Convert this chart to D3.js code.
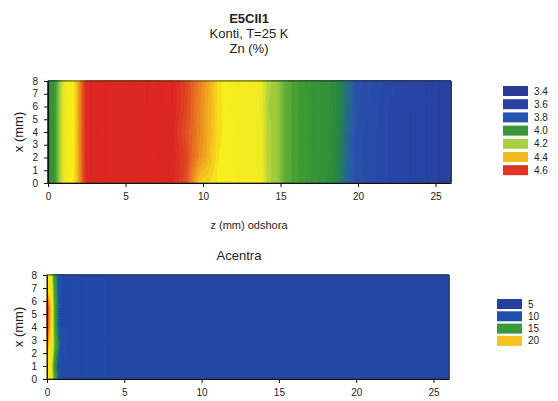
<!DOCTYPE html>
<html>
<head>
<meta charset="utf-8">
<script src="https://cdn.jsdelivr.net/npm/d3@7"></script>
<style>
  body { margin: 0; background: #fff; }
  svg { display: block; font-family: "Liberation Sans", Arial, sans-serif; }
</style>
</head>
<body>
<svg id="chart" width="558" height="401"></svg>
<script>
// --- data ---

// Zn (%) map: knots along z (mm), rows at x (mm)
var zTop = [0, 0.4, 0.8, 1.2, 1.7, 2.1, 2.5, 4, 6, 8, 8.8, 9.3, 9.8, 10.4, 11, 12, 13, 13.8, 14.2, 14.8, 15.3, 17, 18.2, 18.8, 19.4, 20, 22, 24, 26];
var xTop = [0, 2, 4, 6, 8];
var znRow0 = [3.95, 4.02, 4.18, 4.30, 4.35, 4.47, 4.62, 4.68, 4.68, 4.62, 4.56, 4.47, 4.38, 4.37, 4.34, 4.31, 4.30, 4.26, 4.18, 4.15, 4.09, 4.01, 3.96, 3.88, 3.78, 3.70, 3.65, 3.62, 3.57];
var znRow2 = [3.95, 4.02, 4.18, 4.30, 4.35, 4.48, 4.62, 4.68, 4.68, 4.63, 4.57, 4.51, 4.46, 4.41, 4.35, 4.31, 4.30, 4.25, 4.18, 4.15, 4.09, 4.01, 3.97, 3.90, 3.80, 3.70, 3.65, 3.62, 3.57];
var znRow4 = [3.95, 4.02, 4.18, 4.30, 4.35, 4.48, 4.62, 4.68, 4.68, 4.62, 4.55, 4.51, 4.47, 4.42, 4.36, 4.31, 4.30, 4.25, 4.18, 4.15, 4.09, 4.01, 3.97, 3.90, 3.80, 3.70, 3.65, 3.62, 3.57];
var znRow6 = [3.95, 4.02, 4.18, 4.30, 4.35, 4.48, 4.62, 4.68, 4.68, 4.63, 4.57, 4.52, 4.47, 4.42, 4.36, 4.31, 4.30, 4.24, 4.17, 4.15, 4.09, 4.01, 3.97, 3.91, 3.81, 3.71, 3.65, 3.62, 3.57];
var znRow8 = [3.94, 4.01, 4.17, 4.30, 4.35, 4.48, 4.62, 4.68, 4.68, 4.63, 4.57, 4.52, 4.48, 4.43, 4.36, 4.31, 4.30, 4.25, 4.18, 4.15, 4.09, 4.01, 3.97, 3.91, 3.82, 3.72, 3.66, 3.62, 3.57];

// Acentra map
var zBot = [0, 0.15, 0.3, 0.45, 0.6, 0.75, 1.0, 1.5, 5, 10, 15, 20, 26];
var xBot = [0, 1, 2.5, 4, 5.5, 7, 8];
var acRow0 = [17, 16.5, 15.5, 13, 12, 9, 6, 5.2, 4.7, 4.7, 4.7, 4.7, 4.7];
var acRow1 = [17, 16.5, 15, 12.5, 11, 7, 5.6, 5.2, 4.7, 4.7, 4.7, 4.7, 4.7];
var acRow2 = [20, 18, 16.5, 14, 12.5, 11, 7, 5.2, 4.7, 4.7, 4.7, 4.7, 4.7];
var acRow4 = [23, 20, 16.5, 13.5, 12, 9.5, 6, 5.2, 4.7, 4.7, 4.7, 4.7, 4.7];
var acRow5 = [23.5, 20.5, 16.5, 13.5, 12, 9.5, 6, 5.2, 4.7, 4.7, 4.7, 4.7, 4.7];
var acRow7 = [18, 17, 15.5, 13, 11.5, 9, 6, 5.2, 4.7, 4.7, 4.7, 4.7, 4.7];
var acRow8 = [16.5, 16, 15, 12.5, 11, 8.5, 6, 5.2, 4.7, 4.7, 4.7, 4.7, 4.7];

// legends
var topLegend = ["3.4", "3.6", "3.8", "4.0", "4.2", "4.4", "4.6"];
var topLegendColors = ["#2a3b96", "#2842a2", "#2852b0", "#3a9438", "#a8d040", "#f4b820", "#e03424"];
var botLegend = ["5", "10", "15", "20"];
var botLegendColors = ["#263f98", "#1f50b0", "#3a9a3a", "#f6c420"];

var zTicks = [0, 5, 10, 15, 20, 25];
var xTicks = [0, 1, 2, 3, 4, 5, 6, 7, 8];

var svg = d3.select("#chart");

// colour ramps (as scanned)
var znColor = d3.scaleLinear()
  .domain([3.5, 3.65, 3.75, 3.85, 3.93, 4.05, 4.12, 4.18, 4.25, 4.34, 4.40, 4.47, 4.55, 4.62])
  .range(["#293a96", "#2746a6", "#2a56ae", "#227478", "#2a8a3a", "#3f9c35", "#7bbd3a", "#b2d43c", "#f0ea26", "#f8ee1c", "#f4c21e", "#ec8a22", "#e04a24", "#dc2622"])
  .clamp(true);

var acColor = d3.scaleLinear()
  .domain([4, 7, 10, 11, 12.5, 14, 15, 18, 20, 22, 24])
  .range(["#22449f", "#2050ad", "#1f58ab", "#2f8a4a", "#3a9a3a", "#70b83c", "#e6e82c", "#f8e41e", "#f4a020", "#e05a28", "#d83a24"])
  .clamp(true);

// draw one map
function drawMap(opt) {
  var sz = d3.scaleLinear().domain([0, 26]).range([opt.left, opt.right]);
  var sx = d3.scaleLinear().domain([0, 8]).range([opt.bottom, opt.top]);

  var rowScales = opt.rows.map(function (r) {
    return d3.scaleLinear().domain(opt.zk).range(r);
  });

  var nx = 520, ny = 64;
  var values = new Array(nx * ny);
  for (var j = 0; j < ny; j++) {
    var x = 8 * (1 - (j + 0.5) / ny);
    for (var i = 0; i < nx; i++) {
      var z = 26 * (i + 0.5) / nx;
      var col = rowScales.map(function (s) { return s(z); });
      values[j * nx + i] = d3.scaleLinear().domain(opt.xk).range(col)(x);
    }
  }

  var gx = d3.scaleLinear().domain([0, nx]).range([opt.left, opt.right]);
  var gy = d3.scaleLinear().domain([0, ny]).range([opt.top, opt.bottom]);
  var proj = d3.geoTransform({
    point: function (px, py) { this.stream.point(gx(px), gy(py)); }
  });
  var path = d3.geoPath(proj);

  var g = svg.append("g");
  g.append("rect")
    .attr("x", opt.left).attr("y", opt.top)
    .attr("width", opt.right - opt.left).attr("height", opt.bottom - opt.top)
    .attr("fill", opt.color(d3.min(values)));

  var contours = d3.contours().size([nx, ny]).thresholds(opt.thresholds)(values);
  g.selectAll("path.band")
    .data(contours)
    .join("path")
    .attr("class", "band")
    .attr("d", path)
    .attr("fill", function (d) { return opt.color(d.value + opt.step / 2); })
    .attr("stroke", function (d) { return opt.color(d.value + opt.step / 2); })
    .attr("stroke-width", 0.4);

  // frame
  g.append("rect")
    .attr("x", opt.left).attr("y", opt.top)
    .attr("width", opt.right - opt.left).attr("height", opt.bottom - opt.top)
    .attr("fill", "none").attr("stroke", "#333").attr("stroke-width", 0.8);

  // axes
  var ax = svg.append("g")
    .attr("transform", "translate(0," + opt.bottom + ")")
    .call(d3.axisBottom(sz).tickValues(zTicks).tickSize(4).tickSizeOuter(0).tickPadding(6));
  var ay = svg.append("g")
    .attr("transform", "translate(" + opt.left + ",0)")
    .call(d3.axisLeft(sx).tickValues(xTicks).tickSize(4).tickSizeOuter(0).tickPadding(6));
  [ax, ay].forEach(function (a) {
    a.selectAll("text").attr("font-size", 10).attr("fill", "#222")
      .attr("font-family", "'Liberation Sans', Arial, sans-serif");
    a.select(".domain").attr("stroke", "#111");
    a.selectAll(".tick line").attr("stroke", "#111");
  });

  svg.append("text")
    .attr("transform", "translate(18," + ((opt.top + opt.bottom) / 2) + ") rotate(-90)")
    .attr("text-anchor", "middle").attr("dy", "0.35em")
    .attr("font-size", 13).attr("fill", "#222")
    .text("x (mm)");
}

drawMap({
  left: 48, right: 451, top: 81, bottom: 183,
  zk: zTop, xk: xTop, rows: [znRow0, znRow2, znRow4, znRow6, znRow8],
  thresholds: d3.range(3.31, 4.80, 0.02), step: 0.02, color: znColor
});

drawMap({
  left: 47, right: 449, top: 275, bottom: 379,
  zk: zBot, xk: xBot, rows: [acRow0, acRow1, acRow2, acRow4, acRow5, acRow7, acRow8],
  thresholds: d3.range(3.1, 25, 0.25), step: 0.25, color: acColor
});

// titles
var titles = [
  { t: "E5CII1", y: 18, w: "bold" },
  { t: "Konti, T=25 K", y: 33, w: "normal" },
  { t: "Zn (%)", y: 48, w: "normal" }
];
svg.selectAll("text.title")
  .data(titles)
  .join("text")
  .attr("class", "title")
  .attr("x", 249).attr("y", function (d) { return d.y; })
  .attr("dy", "0.35em").attr("text-anchor", "middle")
  .attr("font-size", 13).attr("font-weight", function (d) { return d.w; })
  .attr("fill", "#222")
  .text(function (d) { return d.t; });

svg.append("text").attr("x", 249).attr("y", 225).attr("dy", "0.35em")
  .attr("text-anchor", "middle").attr("font-size", 11).attr("fill", "#222")
  .text("z (mm) odshora");

svg.append("text").attr("x", 239).attr("y", 255).attr("dy", "0.35em")
  .attr("text-anchor", "middle").attr("font-size", 13).attr("fill", "#222")
  .text("Acentra");

// legends
function drawLegend(labels, colors, x, y0, pitch, h) {
  var g = svg.append("g");
  var items = g.selectAll("g").data(labels).join("g")
    .attr("transform", function (d, i) { return "translate(" + x + "," + (y0 + i * pitch) + ")"; });
  items.append("rect").attr("width", 25).attr("height", h)
    .attr("fill", function (d, i) { return colors[i]; });
  items.append("text").attr("x", 31).attr("y", h / 2).attr("dy", "0.35em")
    .attr("font-size", 10).attr("fill", "#222")
    .text(function (d) { return d; });
}

drawLegend(topLegend, topLegendColors, 503, 86, 13.2, 10);
drawLegend(botLegend, botLegendColors, 497, 299, 12.3, 10);
</script>
</body>
</html>
